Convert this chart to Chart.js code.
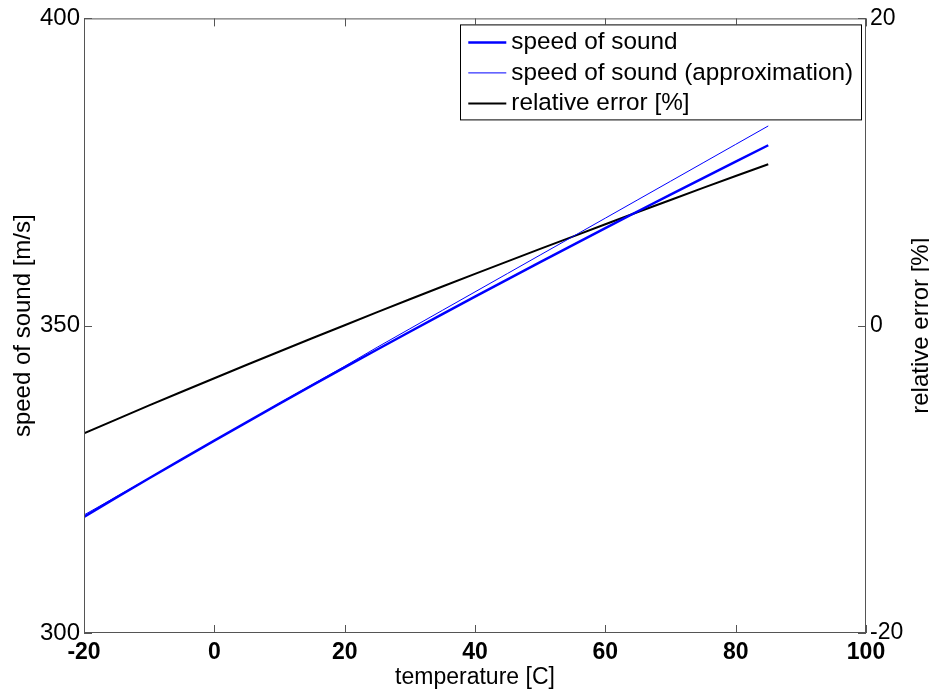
<!DOCTYPE html>
<html lang="en">

<head>
    <meta charset="UTF-8">
    <title>Speed of sound</title>
    <style>
        html,
        body {
            margin: 0;
            padding: 0;
            background: #fff;
        }

        .chartWrap {
            position: relative;
            width: 929px;
            height: 691px;
        }
    </style>
</head>

<body>
    <div class="chartWrap">
        <canvas id="myChart"></canvas>
    </div>

    <script src="https://cdn.jsdelivr.net/npm/chart.js"></script>
    <script>
        // temperature [C]
        const temps = [-20, -15, -10, -5, 0, 5, 10, 15, 20, 25, 30, 35, 40, 45, 50, 55, 60, 65, 70, 75, 80, 85];
        // speed of sound [m/s]
        const speed = [318.9, 322.07, 325.18, 328.26, 331.3, 334.32, 337.31, 340.28, 343.21, 346.13, 349.02, 351.89,
            354.73, 357.55, 360.35, 363.12, 365.88, 368.62, 371.33, 374.03, 376.7, 379.36];
        // speed of sound (approximation)
        const speedApprox = [319.2, 322.2, 325.2, 328.3, 331.3, 334.3, 337.4, 340.4, 343.4, 346.5, 349.5, 352.5,
            355.5, 358.5, 361.5, 364.5, 367.5, 370.5, 373.5, 376.5, 379.5, 382.5];
        // relative error [%]
        const relError = [-7.01, -6.1, -5.19, -4.3, -3.42, -2.54, -1.68, -0.82, 0.03, 0.88, 1.72, 2.55,
            3.37, 4.19, 5.0, 5.8, 6.6, 7.4, 8.18, 8.97, 9.74, 10.51];

        const xTicks = [-20, 0, 20, 40, 60, 80, 100];
        const yTicks = [300, 350, 400];
        const y1Ticks = [-20, 0, 20];

        const toPoints = (ys) => temps.map((t, i) => ({ x: t, y: ys[i] }));

        const font = "'Liberation Sans', Arial, sans-serif";

        // box, inward ticks, legend and right title like the matlab figure
        const matlabPlugin = {
            id: 'matlab',
            afterDraw(chart) {
                const { ctx, chartArea: a, scales } = chart;
                const tl = 8;
                ctx.save();
                ctx.strokeStyle = '#555';
                ctx.lineWidth = 1;
                ctx.strokeRect(a.left + 0.5, a.top + 0.5, a.right - a.left - 1, a.bottom - a.top - 1);

                ctx.beginPath();
                scales.x.ticks.forEach((t) => {
                    const px = Math.round(scales.x.getPixelForValue(t.value)) + 0.5;
                    ctx.moveTo(px, a.bottom);
                    ctx.lineTo(px, a.bottom - tl);
                    ctx.moveTo(px, a.top);
                    ctx.lineTo(px, a.top + tl);
                });
                scales.y.ticks.forEach((t) => {
                    const py = Math.round(scales.y.getPixelForValue(t.value)) + 0.5;
                    ctx.moveTo(a.left, py);
                    ctx.lineTo(a.left + tl, py);
                });
                scales.y1.ticks.forEach((t) => {
                    const py = Math.round(scales.y1.getPixelForValue(t.value)) + 0.5;
                    ctx.moveTo(a.right, py);
                    ctx.lineTo(a.right - tl, py);
                });
                ctx.stroke();

                // legend box in the upper right corner
                ctx.font = '24.3px ' + font;
                const sets = chart.data.datasets;
                let maxW = 0;
                sets.forEach((d) => { maxW = Math.max(maxW, ctx.measureText(d.label).width); });
                const boxW = 51 + maxW + 8;
                const boxH = 95;
                const bx = a.right - 5 - boxW;
                const by = a.top + 6;
                ctx.fillStyle = '#fff';
                ctx.fillRect(bx, by, boxW, boxH);
                ctx.strokeStyle = '#000';
                ctx.strokeRect(Math.round(bx) + 0.5, by + 0.5, Math.round(boxW), boxH);
                ctx.textBaseline = 'middle';
                ctx.textAlign = 'left';
                sets.forEach((d, i) => {
                    const ly = by + 18 + i * 30.5;
                    ctx.beginPath();
                    ctx.strokeStyle = d.borderColor;
                    ctx.lineWidth = d.borderWidth;
                    ctx.moveTo(bx + 8, ly);
                    ctx.lineTo(bx + 46, ly);
                    ctx.stroke();
                    ctx.fillStyle = '#000';
                    ctx.fillText(d.label, bx + 51, ly);
                });

                // right axis title reads bottom to top
                ctx.font = '24px ' + font;
                ctx.translate(921, (a.top + a.bottom) / 2);
                ctx.rotate(-Math.PI / 2);
                ctx.textAlign = 'center';
                ctx.fillStyle = '#000';
                ctx.fillText('relative error [%]', 0, 0);
                ctx.restore();
            }
        };

        let chartData = {
            datasets: [
                {
                    label: 'speed of sound',
                    data: toPoints(speed),
                    borderColor: '#0000ff',
                    borderWidth: 2.5,
                    yAxisID: 'y',
                },
                {
                    label: 'speed of sound (approximation)',
                    data: toPoints(speedApprox),
                    borderColor: '#0000ff',
                    borderWidth: 1,
                    yAxisID: 'y',
                },
                {
                    label: 'relative error [%]',
                    data: toPoints(relError),
                    borderColor: '#000000',
                    borderWidth: 2,
                    yAxisID: 'y1',
                }
            ]
        };
        chartData.datasets.forEach((d) => {
            d.pointRadius = 0;
            d.tension = 0;
            d.fill = false;
        });

        const noGrid = { display: false, drawTicks: false, tickLength: 0 };

        let option = {
            responsive: false,
            animation: false,
            layout: { padding: { top: 17, left: 0, right: 0, bottom: 0 } },
            plugins: {
                legend: { display: false },
                tooltip: { enabled: false },
            },
            scales: {
                x: {
                    type: 'linear',
                    min: -20,
                    max: 100,
                    afterBuildTicks: (s) => { s.ticks = xTicks.map((v) => ({ value: v })); },
                    afterFit: (s) => { s.height = 58; },
                    grid: noGrid,
                    border: { display: false },
                    ticks: {
                        color: '#000',
                        padding: 6,
                        maxRotation: 0,
                        font: { family: font, size: 23, weight: 'bold' },
                    },
                    title: {
                        display: true,
                        text: 'temperature [C]',
                        color: '#000',
                        padding: { top: -4, bottom: 0 },
                        font: { family: font, size: 23 },
                    },
                },
                y: {
                    position: 'left',
                    min: 300,
                    max: 400,
                    afterBuildTicks: (s) => { s.ticks = yTicks.map((v) => ({ value: v })); },
                    afterFit: (s) => { s.width = 84; },
                    grid: noGrid,
                    border: { display: false },
                    ticks: {
                        color: '#000',
                        padding: 4,
                        font: { family: font, size: 24 },
                    },
                    title: {
                        display: true,
                        text: 'speed of sound [m/s]',
                        color: '#000',
                        padding: { top: 9, bottom: 0 },
                        font: { family: font, size: 24 },
                    },
                },
                y1: {
                    position: 'right',
                    min: -20,
                    max: 20,
                    afterBuildTicks: (s) => { s.ticks = y1Ticks.map((v) => ({ value: v })); },
                    afterFit: (s) => { s.width = 63; },
                    grid: noGrid,
                    border: { display: false },
                    ticks: {
                        color: '#000',
                        padding: 4,
                        font: { family: font, size: 23 },
                    },
                },
            },
        };

        let ctx = document.getElementById('myChart');
        ctx.width = 929;
        ctx.height = 691;
        let myChart = new Chart(ctx, {
            type: 'line',
            data: chartData,
            options: option,
            plugins: [matlabPlugin],
        });
    </script>
</body>

</html>
